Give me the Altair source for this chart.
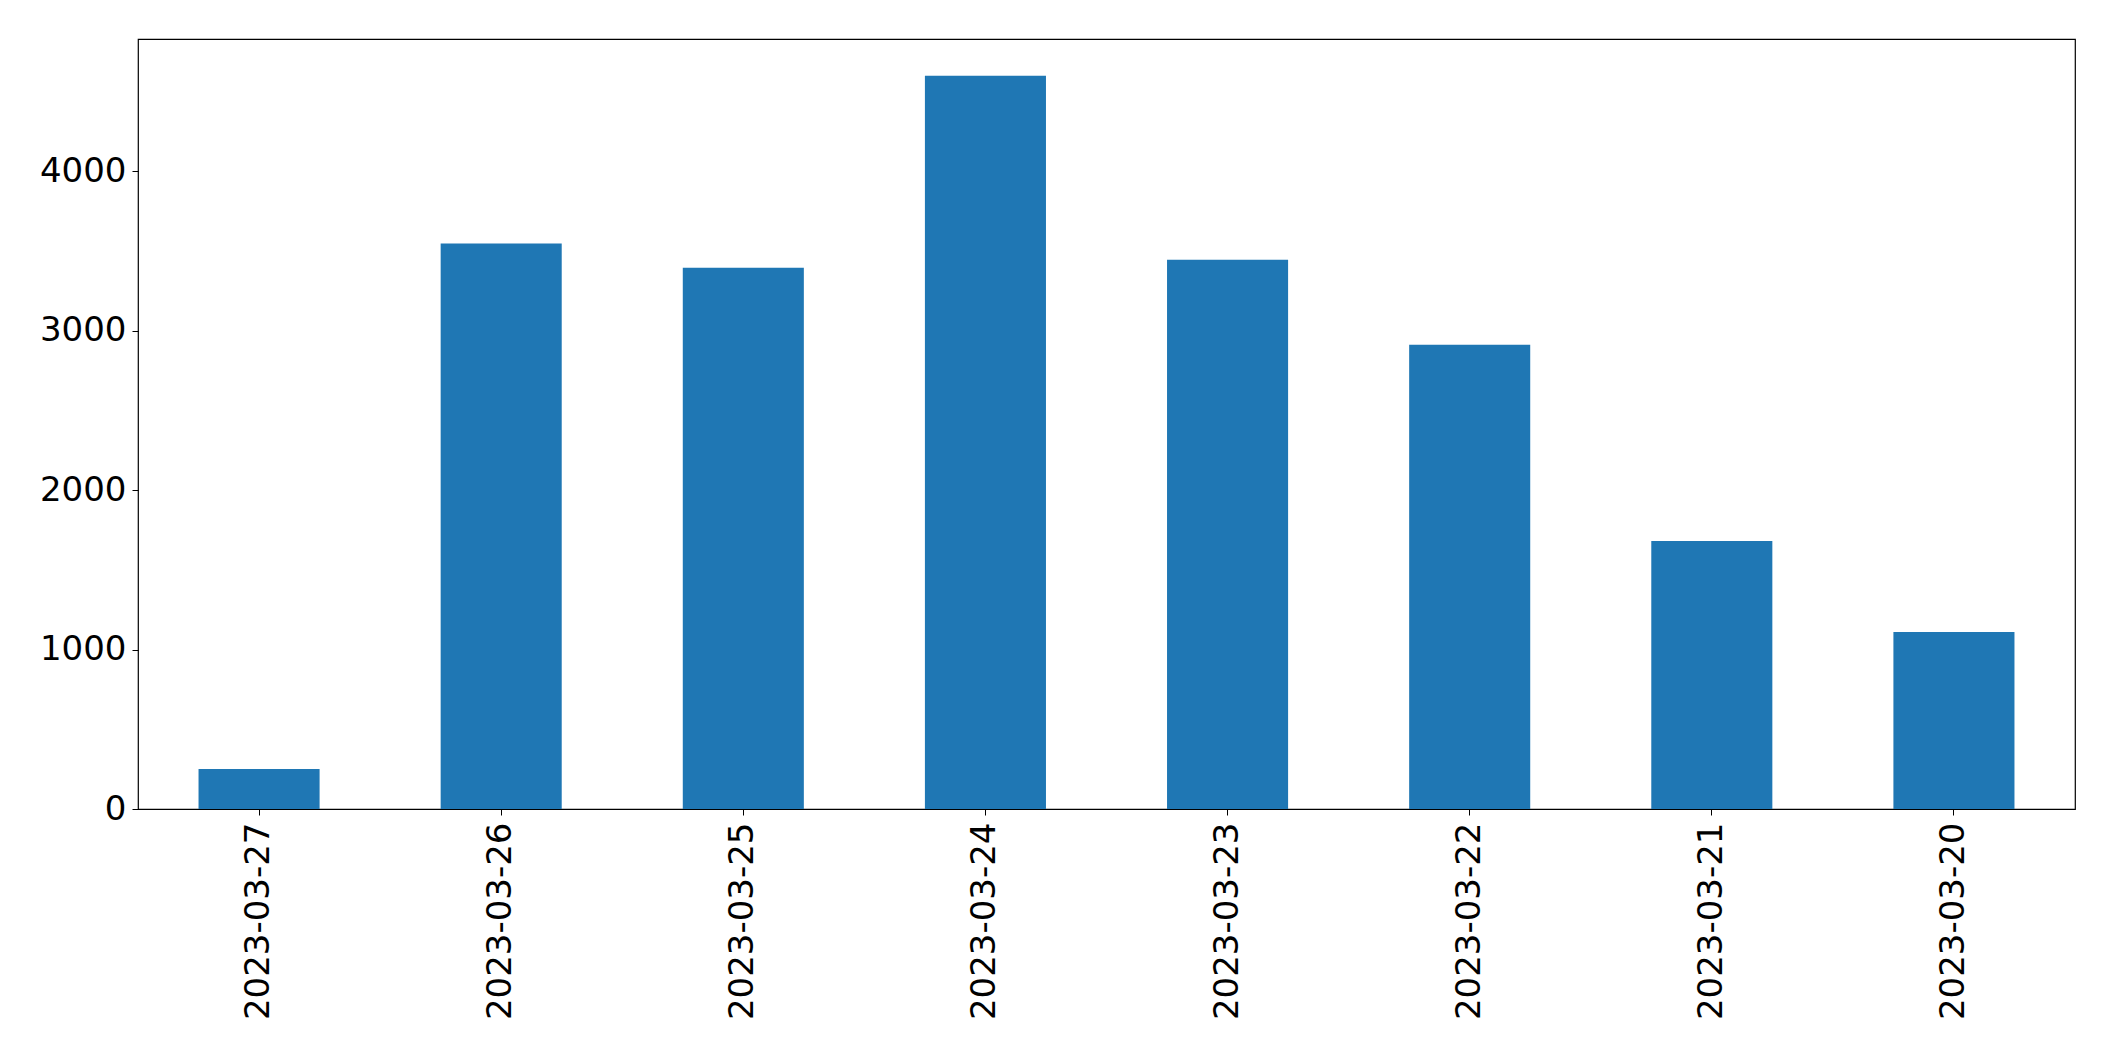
import altair as alt
import pandas as pd

dates = ["2023-03-27", "2023-03-26", "2023-03-25", "2023-03-24",
         "2023-03-23", "2023-03-22", "2023-03-21", "2023-03-20"]
counts = [251, 3545, 3394, 4598, 3444, 2911, 1681, 1110]
y_ticks = [0, 1000, 2000, 3000, 4000]

df = pd.DataFrame({"date": dates, "count": counts})

FONT = "DejaVu Sans"

chart = alt.Chart(df).mark_bar(color="#1f77b4").encode(
    x=alt.X("date:N", sort=dates,
            scale=alt.Scale(paddingInner=0.5, paddingOuter=0.25),
            axis=alt.Axis(title=None, labelAngle=-90, labelFontSize=34,
                          labelFont=FONT, labelColor="black", labelLimit=0,
                          tickColor="black", tickSize=6, tickWidth=1,
                          labelPadding=7, domain=False, grid=False)),
    y=alt.Y("count:Q",
            scale=alt.Scale(domain=[0, 4828], nice=False, zero=True),
            axis=alt.Axis(title=None, values=y_ticks, format="d",
                          labelFontSize=34,
                          labelFont=FONT, labelColor="black",
                          tickColor="black", tickSize=6, tickWidth=1,
                          labelPadding=6, domain=False, grid=False)),
).properties(
    width=1937,
    height=770,
    padding={"left": 130, "top": 31, "right": 30, "bottom": 230},
    autosize=alt.AutoSizeParams(type="none"),
    background="white",
).configure_view(
    stroke="black",
    strokeWidth=1.2,
)

chart.save("out.html", embed_options={"renderer": "svg", "actions": False})
